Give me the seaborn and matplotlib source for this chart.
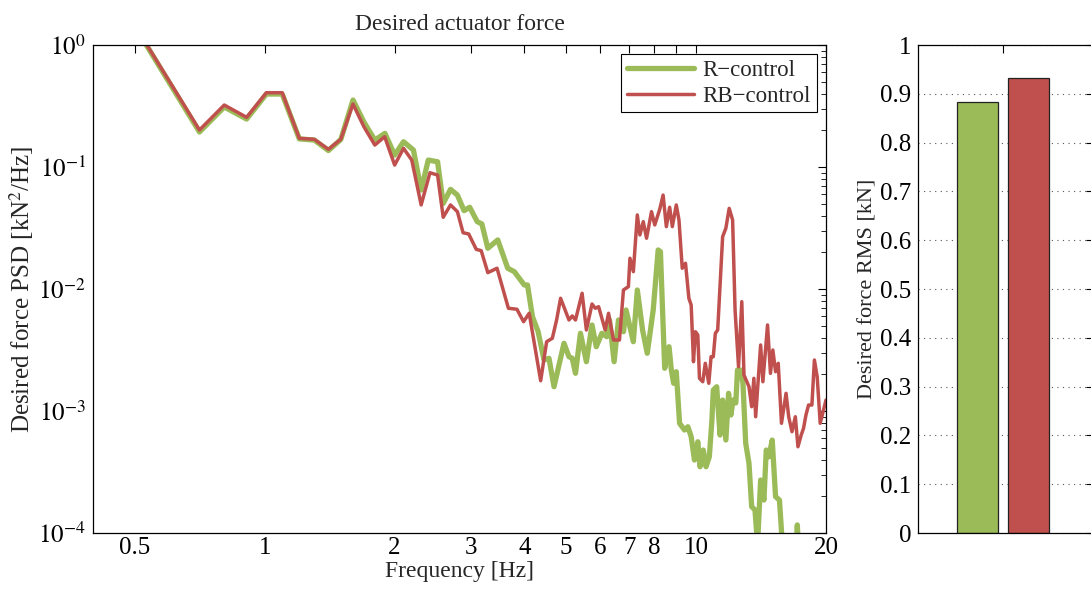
import numpy as np
import matplotlib
matplotlib.use("Agg")
import matplotlib.pyplot as plt
import seaborn as sns

# ---- data -----------------------------------------------------------------
# PSD of desired actuator force, stored in dB re 1 kN^2/Hz
red_freq = [0.50, 0.530, 0.706, 0.806, 0.908, 1.009, 1.098, 1.203, 1.303, 1.405,
            1.501, 1.602, 1.698, 1.800, 1.897, 2.001, 2.098, 2.192, 2.305, 2.416,
            2.516, 2.593, 2.696, 2.797, 2.883, 2.971, 3.093, 3.176, 3.290, 3.456,
            3.672, 3.843, 3.981, 4.103, 4.362, 4.503, 4.642, 4.749, 4.851, 5.073,
            5.162, 5.253, 5.442, 5.567, 5.737, 5.838, 5.943, 6.154, 6.266, 6.434,
            6.642, 6.785, 6.966, 7.025, 7.153, 7.306, 7.408, 7.542, 7.675, 7.881,
            8.019, 8.235, 8.384, 8.531, 8.682, 8.807, 8.995, 9.125, 9.286, 9.449,
            9.621, 9.739, 9.859, 9.963, 10.09, 10.18, 10.36, 10.50, 10.70, 10.83,
            10.96, 11.08, 11.22, 11.52, 11.72, 11.93, 12.15, 12.31, 12.54, 12.76,
            12.91, 13.26, 13.45, 13.61, 13.74, 14.11, 14.28, 14.64, 14.87, 15.06,
            15.28, 15.50, 15.77, 16.16, 16.39, 16.68, 16.98, 17.22, 17.52, 17.74,
            17.97, 18.22, 18.55, 18.80, 19.08, 19.39, 20.0]
red_db = [1.64, 0.16, -6.97, -4.92, -5.93, -3.91, -3.91, -7.65, -7.73, -8.55,
          -7.73, -4.84, -6.70, -8.20, -7.52, -9.84, -8.47, -9.43, -13.11, -10.47,
          -10.66, -14.12, -13.11, -13.66, -15.39, -15.49, -16.75, -16.86, -18.66, -18.30,
          -21.58, -21.66, -22.68, -21.99, -27.52, -24.32, -24.04, -22.54, -20.76, -22.54,
          -22.21, -22.54, -20.35, -23.36, -21.23, -21.58, -21.45, -23.36, -21.99, -24.18,
          -24.18, -20.08, -19.81, -17.48, -18.58, -13.93, -15.57, -14.48, -15.84, -13.66,
          -14.75, -13.47, -12.30, -14.89, -13.30, -14.89, -13.11, -14.34, -18.30, -17.89,
          -20.76, -21.31, -25.96, -23.50, -23.77, -27.32, -27.60, -26.09, -27.73, -25.55,
          -25.55, -23.63, -23.36, -15.71, -15.02, -13.39, -14.34, -21.72, -26.37, -21.04,
          -27.05, -28.01, -29.65, -27.32, -30.47, -24.59, -27.60, -22.95, -26.91, -25.00,
          -26.78, -26.09, -31.01, -28.55, -30.47, -31.70, -30.47, -32.93, -31.97, -31.42,
          -30.33, -29.51, -29.51, -25.82, -27.19, -31.01, -29.10]

green_freq = [0.50, 0.530, 0.706, 0.806, 0.908, 1.009, 1.098, 1.203, 1.303, 1.405,
              1.501, 1.602, 1.698, 1.800, 1.900, 2.001, 2.098, 2.212, 2.305, 2.394,
              2.516, 2.593, 2.696, 2.797, 2.898, 2.987, 3.109, 3.187, 3.290, 3.469,
              3.659, 3.790, 3.996, 4.066, 4.175, 4.303, 4.441, 4.560, 4.684, 4.940,
              5.073, 5.162, 5.253, 5.394, 5.567, 5.737, 5.869, 6.047, 6.209, 6.299,
              6.455, 6.607, 6.785, 6.880, 7.153, 7.306, 7.514, 7.704, 7.953, 8.166,
              8.265, 8.456, 8.654, 8.761, 8.868, 8.995, 9.155, 9.400, 9.570, 9.739,
              9.911, 10.09, 10.21, 10.39, 10.54, 10.73, 10.88, 10.96, 11.16, 11.36,
              11.52, 11.72, 11.89, 12.04, 12.18, 12.36, 12.47, 12.69, 12.84, 13.03,
              13.26, 13.45, 13.69, 13.88, 14.11, 14.36, 14.54, 14.74, 15.01, 15.28,
              15.60, 15.85, 16.98, 17.16, 17.34, 20.0]
green_db = [1.64, 0.08, -7.13, -5.08, -6.07, -4.02, -4.02, -7.70, -7.79, -8.65,
            -7.75, -4.51, -6.31, -7.79, -7.24, -9.02, -7.93, -8.61, -11.89, -9.43,
            -9.57, -12.98, -11.83, -12.30, -13.58, -13.30, -14.48, -14.67, -16.66, -15.98,
            -18.30, -18.58, -19.67, -19.67, -22.27, -23.50, -25.82, -25.68, -28.01, -24.45,
            -25.55, -25.68, -26.91, -23.63, -25.96, -22.95, -24.73, -23.63, -23.91, -22.54,
            -25.96, -22.54, -23.50, -21.72, -24.32, -20.08, -23.36, -25.27, -21.72, -16.80,
            -16.94, -26.50, -24.73, -26.64, -27.73, -26.78, -31.01, -31.56, -31.29, -32.11,
            -34.02, -32.52, -34.57, -33.20, -34.57, -33.75, -30.74, -28.28, -28.01, -31.97,
            -29.10, -32.38, -28.55, -30.33, -29.10, -29.34, -26.64, -26.64, -27.73, -32.65,
            -34.29, -37.84, -38.11, -40.98, -35.66, -37.30, -33.20, -33.75, -32.38, -37.02,
            -37.30, -40.98, -42.21, -39.34, -42.21, -45.49]

rms_labels = ["R\u2212control", "RB\u2212control"]
rms_values = [0.884, 0.933]

GREEN = "#9BBB59"
RED = "#C0504D"

xtick_vals = [0.5, 1, 2, 3, 4, 5, 6, 7, 8, 9, 10, 20]
xtick_text = ["0.5", "1", "2", "3", "4", "5", "6", "7", "8", "", "10", "20"]

FS = 18


def main() -> None:
    sns.set_theme(style="white")
    plt.rcParams["font.family"] = ["Liberation Serif", "DejaVu Serif"]
    plt.rcParams["mathtext.fontset"] = "stix"
    plt.rcParams["font.size"] = FS

    fig = plt.figure(figsize=(10.91, 5.92), dpi=100)
    ax = fig.add_axes([93 / 1091, 1 - 533 / 592, (826 - 93) / 1091, (533 - 45) / 592])
    axb = fig.add_axes([918 / 1091, 1 - 533 / 592, 176 / 1091, (533 - 45) / 592])

    # ---- PSD lines -------------------------------------------------------
    g_psd = 10 ** (np.array(green_db) / 10.0)
    r_psd = 10 ** (np.array(red_db) / 10.0)
    sns.lineplot(x=green_freq, y=g_psd, ax=ax, color=GREEN, linewidth=3.8,
                 estimator=None, sort=False, label="R\u2212control")
    sns.lineplot(x=red_freq, y=r_psd, ax=ax, color=RED, linewidth=2.5,
                 estimator=None, sort=False, label="RB\u2212control")
    ax.set_xscale("log")
    ax.set_yscale("log")
    ax.set_xlim(0.4, 20)
    ax.set_ylim(1e-4, 1)
    ax.set_xticks(xtick_vals)
    ax.set_xticklabels(xtick_text)
    ax.xaxis.set_minor_locator(matplotlib.ticker.NullLocator())
    ax.set_yticks([1e-4, 1e-3, 1e-2, 1e-1, 1])
    ax.set_yticklabels([r"$10^{-4}$", r"$10^{-3}$", r"$10^{-2}$", r"$10^{-1}$", r"$10^{0}$"])
    ax.yaxis.set_minor_locator(matplotlib.ticker.LogLocator(base=10, subs=np.arange(2, 10)))
    ax.yaxis.set_minor_formatter(matplotlib.ticker.NullFormatter())
    ax.tick_params(which="both", direction="in", top=True, right=True,
                   colors="black", labelsize=FS)
    ax.tick_params(which="major", length=6, width=0.8, pad=5)
    ax.tick_params(axis="x", which="major", pad=3)
    ax.tick_params(which="minor", length=3.5, width=0.6)
    for s in ax.spines.values():
        s.set_color("black")
        s.set_linewidth(0.9)
    ax.set_xlabel("Frequency [Hz]", fontsize=17, labelpad=1)
    ax.set_ylabel(r"Desired force PSD [kN$^2$/Hz]", fontsize=FS, labelpad=2)
    ax.set_title("Desired actuator force", fontsize=17, pad=11)
    leg = ax.legend(loc="upper right", fontsize=16.5, frameon=True, fancybox=False,
                    edgecolor="black", framealpha=1, handlelength=2.9,
                    borderpad=0.25, labelspacing=0.2, handletextpad=0.4,
                    borderaxespad=0.4)
    leg.get_frame().set_linewidth(0.8)

    # ---- RMS bars --------------------------------------------------------
    sns.barplot(x=rms_labels, y=rms_values, hue=rms_labels, ax=axb,
                palette=[GREEN, RED], saturation=1, width=0.81,
                edgecolor="#222222", linewidth=0.9, legend=False)
    axb.set_xlim(-1.18, 2.30)
    axb.set_ylim(0, 1)
    axb.set_xticks([0.5])
    axb.set_xticklabels([""])
    axb.set_yticks(np.arange(0, 1.01, 0.1))
    axb.set_yticklabels(["0", "0.1", "0.2", "0.3", "0.4", "0.5", "0.6",
                         "0.7", "0.8", "0.9", "1"])
    axb.yaxis.grid(True, linestyle=(0, (1, 4)), color="#555555", linewidth=0.8)
    axb.set_axisbelow(True)
    axb.tick_params(which="both", direction="in", top=True, right=True,
                    colors="black", labelsize=FS, length=6, width=0.8, pad=5)
    for s in axb.spines.values():
        s.set_color("black")
        s.set_linewidth(0.9)
    axb.set_xlabel("")
    axb.set_ylabel("Desired force RMS [kN]", fontsize=16, labelpad=2)

    fig.savefig("out.png", dpi=100)
    plt.close(fig)


if __name__ == "__main__":
    main()
